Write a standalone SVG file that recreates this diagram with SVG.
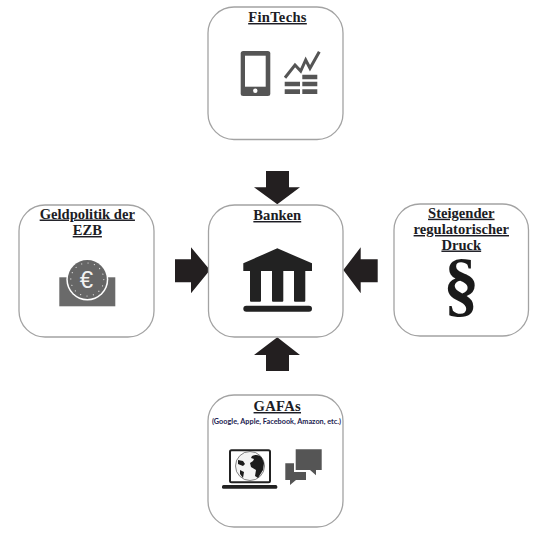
<svg xmlns="http://www.w3.org/2000/svg" width="550" height="537" viewBox="0 0 550 537">
<style>
.box{fill:#fff;stroke:#a3a3a3;stroke-width:1.3}
.t{font-family:"Liberation Serif",serif;font-weight:bold;font-size:14.6px;text-anchor:middle;text-decoration:underline;fill:#1c1c24}
.s{font-family:"Lato","Liberation Sans",sans-serif;font-weight:bold;font-size:6.8px;text-anchor:middle;fill:#1c1c50}
.arrow{fill:#231f20}
.g{fill:#555}
.b{fill:#222}
</style>
<rect width="550" height="537" fill="#fff"/>
<g id="connectors">
<polygon class="arrow" points="266,171 289,171 289,187.3 300,187.3 277.3,204.3 254,187.3 266,187.3"/>
<polygon class="arrow" points="266,371 289,371 289,355 300,355 277.3,337.3 254,355 266,355"/>
<polygon class="arrow" points="175,259.3 191,259.3 191,247.3 210,270 191,293.3 191,282.3 175,282.3"/>
<polygon class="arrow" points="377.7,259.3 360.7,259.3 360.7,247.3 343.3,270 360.7,293.3 360.7,282.3 377.7,282.3"/>
</g>
<g id="fintechs">
<rect class="box" x="208" y="7" width="135" height="132.500" rx="26"/>
<text class="t" x="277.500" y="22" letter-spacing=".3">FinTechs</text>
<rect class="g" x="240.700" y="51" width="29.600" height="45" rx="2.500"/>
<rect x="245" y="55.700" width="20.700" height="31" fill="#fff"/>
<circle cx="255.300" cy="90.700" r="2.200" fill="#fff"/>
<polyline points="285,77.700 295,65 300.700,71 305.700,60 310,68.300 319.300,51.700" fill="none" stroke="#555" stroke-width="3"/>
<path class="g" d="M302.300 74.700h15v4.600h-15zM284.700 81.700h15.300v4.600h-15.300zM302.300 81.700h15v4.600h-15zM284.700 89.300h15.300v4.700h-15.300zM302.300 89.300h15v4.700h-15z"/>
</g>
<g id="banken">
<rect class="box" x="208.500" y="205" width="134.500" height="132" rx="26"/>
<text class="t" x="277.300" y="220">Banken</text>
<polygon class="b" points="277.300,248.300 312,263.300 312,271 243.300,271 243.300,263.300"/>
<path class="b" d="M250 270h11v30.700q0 1-1 1h-9q-1 0-1-1zM272 270h11.300v30.700q0 1-1 1h-9.300q-1 0-1-1zM294 270h11.300v30.700q0 1-1 1h-9.300q-1 0-1-1z"/>
<rect class="b" x="243.300" y="305.700" width="68.700" height="6" rx="3"/>
</g>
<g id="geldpolitik">
<rect class="box" x="19" y="205" width="135" height="132" rx="26"/>
<text class="t" x="87.300" y="218.500">Geldpolitik der</text>
<text class="t" x="87.300" y="235">EZB</text>
<rect x="59.300" y="277.300" width="56" height="29" fill="#6a6a6a"/>
<circle cx="87.300" cy="279.500" r="21" fill="#fff"/>
<circle cx="87.300" cy="279.500" r="19.500" fill="#666"/>
<circle cx="87.300" cy="279.500" r="16.500" fill="none" stroke="#ddd" stroke-width="1.200" stroke-dasharray="0.100 6.400" stroke-linecap="round"/>
<text x="86.500" y="288" font-family="Liberation Sans, sans-serif" font-size="24" text-anchor="middle" fill="#f2f2f2">€</text>
</g>
<g id="regulatorik">
<rect class="box" x="394" y="204" width="134.500" height="132" rx="26"/>
<text class="t" x="461.300" y="217.700">Steigender</text>
<text class="t" x="461.300" y="234">regulatorischer</text>
<text class="t" x="461.300" y="249.500">Druck</text>
<text x="461.300" y="308" font-family="Liberation Serif, serif" font-weight="bold" font-size="72" text-anchor="middle" fill="#1a1a1a">§</text>
</g>
<g id="gafas">
<rect class="box" x="208" y="395" width="135" height="132" rx="26"/>
<text class="t" x="277.300" y="411" letter-spacing=".3">GAFAs</text>
<text class="s" x="276.500" y="423.500" textLength="129" lengthAdjust="spacingAndGlyphs">(Google, Apple, Facebook, Amazon,  etc.)</text>
<rect x="230" y="450.300" width="40" height="32" rx="1.500" fill="#fff" stroke="#222" stroke-width="2"/>
<circle cx="250" cy="466" r="14.500" fill="#f4f4f4" stroke="#333" stroke-width=".6"/>
<path fill="#1c1c1c" d="M252 456c4-2 8-1 10 2l2 5-1 7-5 8-3-2 1-6-5-3-1-4 3-2 1-2-3-1zM238 460l5 1 2 3-2 2-5-2zM240 470l4 2-1 6-3-4z"/>
<rect class="b" x="222" y="485" width="55.300" height="3.700" rx="1.500"/>
<path d="M294 447.500h29.500v24.500h-5v5l-6-5h-18.500z" fill="#fff"/>
<path class="g" d="M295.700 449.300h26v20.700h-5.700v5.300l-6-5.300h-14.300z"/>
<path class="g" d="M285.300 463.300h8.700v8.700h12v8h-10l-6 5v-5h-4.700z"/>
</g>
</svg>
